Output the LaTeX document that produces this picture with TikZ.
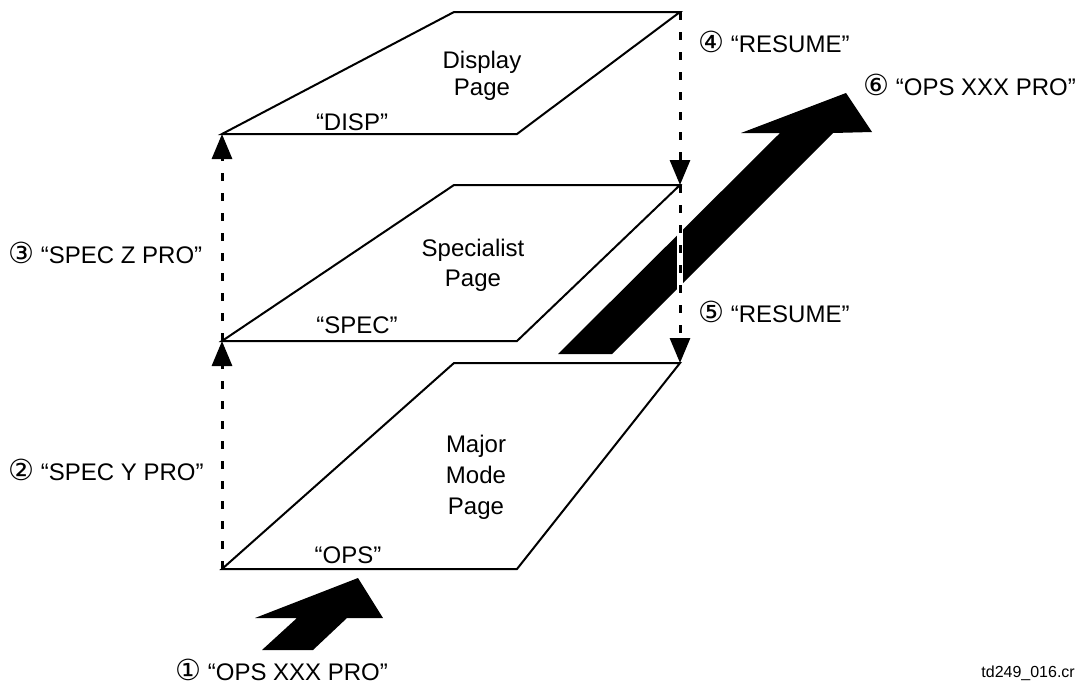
\documentclass[tikz,border=0pt]{standalone}
\usepackage{fontspec}
\setmainfont{Liberation Sans}
\newfontfamily\circfont{DejaVu Sans}
\usetikzlibrary{arrows.meta}
\newcommand\circnum[1]{{\circfont\fontsize{29}{29}\selectfont #1}}
\begin{document}
\begin{tikzpicture}[x=1pt,y=-1pt,
  pagebox/.style={draw=black, line width=2pt, line join=miter},
  bigarrow/.style={fill=black, draw=none},
  flowline/.style={line width=3pt, dash pattern=on 8pt off 12pt,
    -{Triangle[length=25pt,width=20pt]}},
  lbl/.style={inner sep=0pt, font=\fontsize{24}{28}\selectfont},
  pagelbl/.style={inner sep=0pt, align=center},
  note/.style={inner sep=0pt, font=\fontsize{16}{19}\selectfont}]
\useasboundingbox[fill=white] (0,0) rectangle (1078,688);

% page corners
\coordinate (dTL) at (454,12);  \coordinate (dTR) at (680,12);
\coordinate (dBR) at (517,134); \coordinate (dBL) at (222,134);
\coordinate (sTL) at (454,185); \coordinate (sTR) at (680,185);
\coordinate (sBR) at (517,341); \coordinate (sBL) at (222,341);
\coordinate (mTL) at (454,363); \coordinate (mTR) at (680,363);
\coordinate (mBR) at (517,569); \coordinate (mBL) at (222,569);

% pages
\draw[pagebox] (dTL) -- (dTR) -- (dBR) -- (dBL) -- cycle;
\draw[pagebox] (sTL) -- (sTR) -- (sBR) -- (sBL) -- cycle;
\draw[pagebox] (mTL) -- (mTR) -- (mBR) -- (mBL) -- cycle;

% big arrows
\fill[bigarrow] (262,650) -- (297,618) -- (255,618) -- (358,578)
  -- (383,618) -- (347,618) -- (313,650) -- cycle;
\fill[bigarrow] (558,354) -- (780,133) -- (741,133) -- (846,93)
  -- (872,132) -- (833,133) -- (612,354) -- cycle;
\draw[white, line width=6pt] (680,226) -- (680,294);

% dashed transitions
\draw[flowline] (mBL) -- (sBL);
\draw[flowline] (sBL) -- (dBL);
\draw[flowline] (dTR) -- (sTR);
\draw[flowline] (sTR) -- (mTR);

% page texts
\node[pagelbl, font=\fontsize{24}{27}\selectfont] (dname) at (482,76) {Display\\Page};
\node[pagelbl, font=\fontsize{24}{30}\selectfont] (sname) at (473,265) {Specialist\\Page};
\node[pagelbl, font=\fontsize{24}{31}\selectfont] (mname) at (476,477) {Major\\Mode\\Page};
\node[lbl] (disp) at (352,122) {“DISP”};
\node[lbl] (spec) at (357,325) {“SPEC”};
\node[lbl] (ops) at (348,555) {“OPS”};

% step labels
\node[lbl, anchor=west] (s1) at (175,670) {\circnum{①} “OPS XXX PRO”};
\node[lbl, anchor=west] (s2) at (8,470) {\circnum{②} “SPEC Y PRO”};
\node[lbl, anchor=west] (s3) at (8,253) {\circnum{③} “SPEC Z PRO”};
\node[lbl, anchor=west] (s4) at (698,42) {\circnum{④} “RESUME”};
\node[lbl, anchor=west] (s5) at (698,312) {\circnum{⑤} “RESUME”};
\node[lbl, anchor=west] (s6) at (863,85) {\circnum{⑥} “OPS XXX PRO”};
\node[note, anchor=east] (ref) at (1075,673) {td249\_016.cr};
\end{tikzpicture}
\end{document}
